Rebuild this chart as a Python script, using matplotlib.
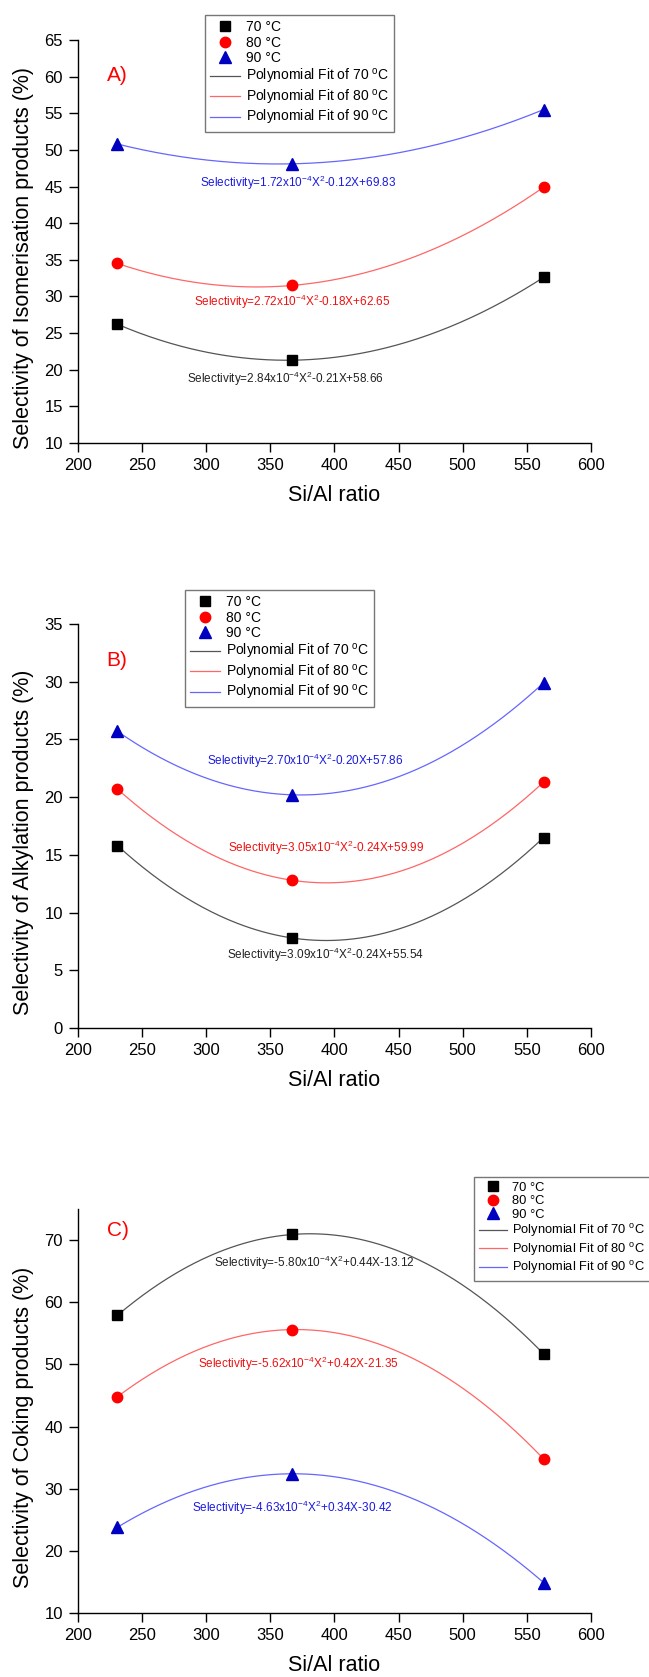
import matplotlib
matplotlib.use("Agg")
import matplotlib.pyplot as plt
import numpy as np

plt.rcParams['font.family'] = ['Liberation Sans', 'DejaVu Sans']
plt.rcParams['mathtext.default'] = 'regular'

# Si/Al ratio of the three catalysts
si_al = [231, 367, 563]
temps = ["70", "80", "90"]

# selectivity (%) per temperature
iso = {"70": [26.2, 21.3, 32.6], "80": [34.5, 31.5, 44.9], "90": [50.8, 48.1, 55.5]}
alk = {"70": [15.8, 7.8, 16.5], "80": [20.7, 12.8, 21.3], "90": [25.7, 20.2, 29.9]}
cok = {"70": [57.9, 70.9, 51.7], "80": [44.8, 55.6, 34.8], "90": [23.8, 32.4, 14.9]}

iso_eq = {"70": "Selectivity=2.84x10$^{-4}$X$^{2}$-0.21X+58.66",
          "80": "Selectivity=2.72x10$^{-4}$X$^{2}$-0.18X+62.65",
          "90": "Selectivity=1.72x10$^{-4}$X$^{2}$-0.12X+69.83"}
alk_eq = {"70": "Selectivity=3.09x10$^{-4}$X$^{2}$-0.24X+55.54",
          "80": "Selectivity=3.05x10$^{-4}$X$^{2}$-0.24X+59.99",
          "90": "Selectivity=2.70x10$^{-4}$X$^{2}$-0.20X+57.86"}
cok_eq = {"70": "Selectivity=-5.80x10$^{-4}$X$^{2}$+0.44X-13.12",
          "80": "Selectivity=-5.62x10$^{-4}$X$^{2}$+0.42X-21.35",
          "90": "Selectivity=-4.63x10$^{-4}$X$^{2}$+0.34X-30.42"}

# where the equations sit (data coords)
iso_eq_pos = {"70": (362, 18.8), "80": (367, 29.2), "90": (372, 45.5)}
alk_eq_pos = {"70": (393, 6.3), "80": (394, 15.6), "90": (377, 23.1)}
cok_eq_pos = {"70": (384, 66.3), "80": (372, 50.1), "90": (367, 26.9)}

markers = {"70": "s", "80": "o", "90": "^"}
msizes = {"70": 6.5, "80": 7.5, "90": 8}
mcolors = {"70": "black", "80": "#ff0000", "90": "#0000c0"}
lcolors = {"70": "#555555", "80": "#ff6666", "90": "#6666ff"}
tcolors = {"70": "#222222", "80": "#ee1111", "90": "#1a1ae0"}

W, H = 649, 1677
fig = plt.figure(figsize=(W / 100, H / 100), dpi=100)


def make_panel(top_px, bottom_px, ylim, yticks, data, eqs, eqpos, ylabel, tag, tagpos,
               leg_xy, leg_fs):
    ax = fig.add_axes([77.7 / W, 1 - bottom_px / H, (591 - 77.7) / W, (bottom_px - top_px) / H])
    for t in temps:
        ax.plot(si_al, data[t], ls="none", marker=markers[t], ms=msizes[t],
                color=mcolors[t], label=t + " \u00b0C", zorder=3)
    for t in temps:
        coef = np.polyfit(si_al, data[t], 2)
        xs = np.linspace(min(si_al), max(si_al), 200)
        ax.plot(xs, np.polyval(coef, xs), color=lcolors[t], lw=0.9,
                label="Polynomial Fit of " + t + " $^{o}$C", zorder=2)
        ax.text(eqpos[t][0], eqpos[t][1], eqs[t], color=tcolors[t], fontsize=8.5,
                ha="center", va="center")
    ax.text(tagpos[0], tagpos[1], tag, color="red", fontsize=15, ha="left", va="center")

    ax.set_xlim(200, 600)
    ax.set_ylim(*ylim)
    ax.set_xticks(np.arange(200, 601, 50))
    ax.set_yticks(yticks)
    for s in ["top", "right"]:
        ax.spines[s].set_visible(False)
    for s in ["left", "bottom"]:
        ax.spines[s].set_linewidth(1.0)
    ax.tick_params(direction="out", length=6.5, width=1.0, labelsize=12, pad=4)
    ax.set_xlabel("Si/Al ratio", fontsize=15.5)
    ax.set_ylabel(ylabel, fontsize=15.5)
    ax.xaxis.set_label_coords(0.5, -0.105)
    ax.yaxis.set_label_coords(-0.085, 0.46)

    leg = ax.legend(loc="upper left", bbox_to_anchor=(leg_xy[0] / W, 1 - leg_xy[1] / H),
                    bbox_transform=fig.transFigure, borderaxespad=0, fontsize=leg_fs,
                    frameon=True, fancybox=False, edgecolor="#777777", framealpha=1,
                    labelspacing=0.12, handlelength=2.2, handletextpad=0.4, borderpad=0.35)
    leg.get_frame().set_linewidth(1.0)
    return ax


make_panel(40, 443, (10, 65), np.arange(10, 66, 5), iso, iso_eq, iso_eq_pos,
           "Selectivity of Isomerisation products (%)", "A)", (223, 60.2), (205, 15), 10)
make_panel(624, 1028, (0, 35), np.arange(0, 36, 5), alk, alk_eq, alk_eq_pos,
           "Selectivity of Alkylation products (%)", "B)", (222, 31.8), (185, 590), 10)
make_panel(1209, 1613, (10, 75), np.arange(10, 71, 10), cok, cok_eq, cok_eq_pos,
           "Selectivity of Coking products (%)", "C)", (223, 71.5), (474, 1177), 9.3)

fig.savefig("out.png", dpi=100)
